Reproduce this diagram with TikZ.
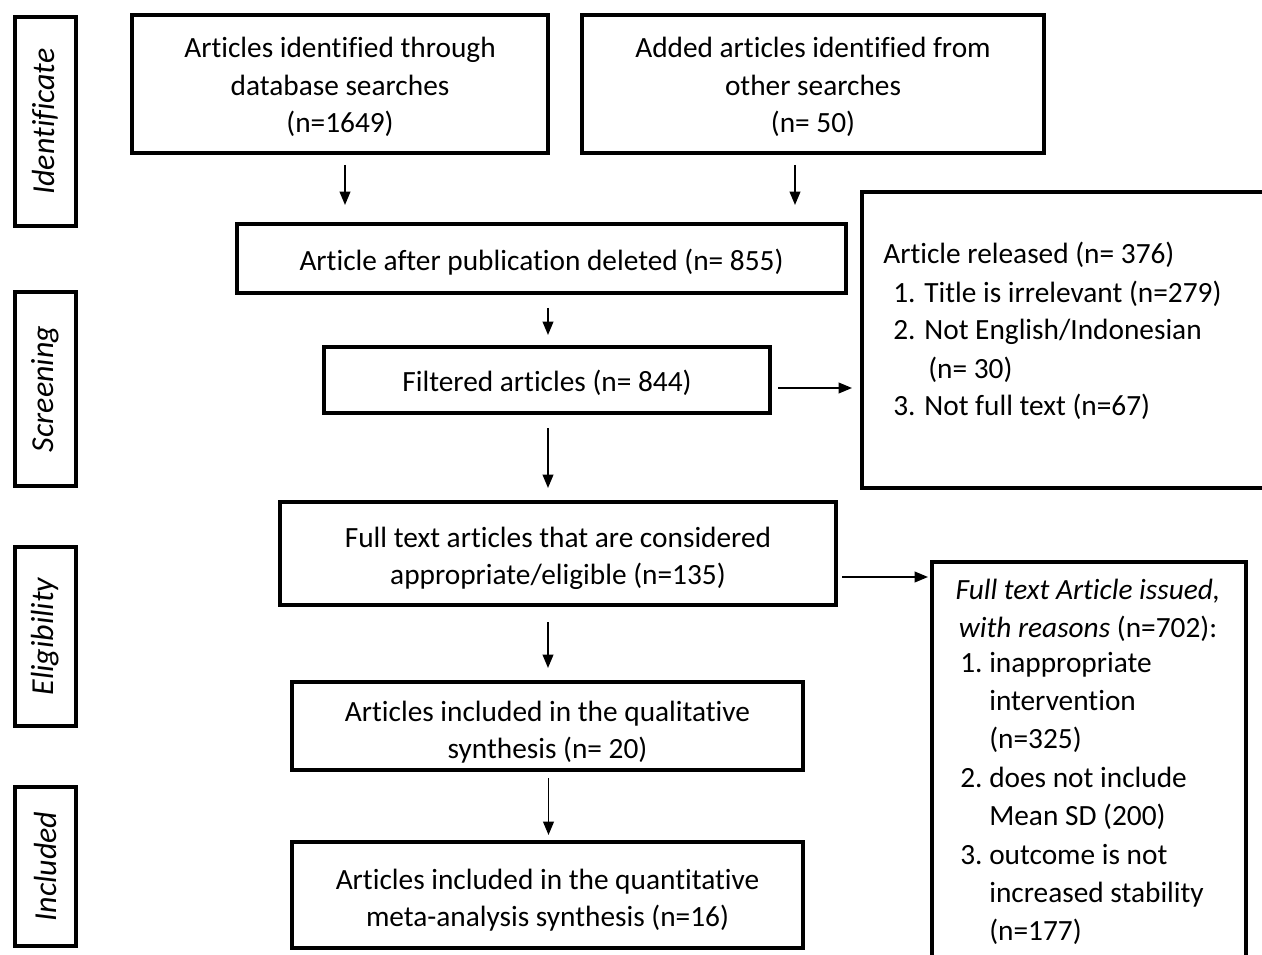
\documentclass[tikz,border=0pt]{standalone}
\usepackage{fontspec}
\setmainfont{Carlito}[Ligatures=NoCommon]
\usetikzlibrary{arrows.meta}
\newcommand{\lift}[1]{\rule{0pt}{#1pt}}
\begin{document}
\begin{tikzpicture}[x=0.75pt,y=-0.75pt,
  every node/.style={font=\fontsize{22}{28}\selectfont},
  box/.style={draw, line width=3pt, inner sep=0pt, align=center},
  sz/.style 2 args={minimum width={(#1-4)*0.75pt}, minimum height={(#2-4)*0.75pt}},
  side/.style={draw, line width=3pt, rotate=90, inner sep=0pt, font=\fontsize{24}{28}\selectfont\itshape},
  txt/.style={inner sep=0pt},
  arr/.style={line width=1.3pt, -{Triangle[length=10pt,width=8pt]}}
]
\clip (0,0) rectangle (1262,955);
% side labels
\node[side, sz={213}{65}] (s1) at (45.5,121.5) {Identificate};
\node[side, sz={198}{65}] (s2) at (45.5,389) {Screening};
\node[side, sz={183}{65}] (s3) at (45.5,636.5) {Eligibility};
\node[side, sz={163}{65}] (s4) at (45.5,866.5) {Included};
% main boxes
\node[box, sz={420}{142}] (A) at (340,84) {\lift{20}Articles identified through\\database searches\\(n=1649)};
\node[box, sz={466}{142}] (B) at (813,84) {\lift{20}Added articles identified from\\other searches\\(n= 50)};
\node[box, sz={613}{73}] (C) at (541.5,258.5) {\lift{21}Article after publication deleted (n= 855)};
\node[box, sz={450}{70}] (D) at (547,380) {\lift{20}Filtered articles (n= 844)};
\node[box, sz={440}{300}] (E) at (1080,340) {};
\node[txt, anchor=base west, text width={370*0.75pt}, align=flush left, font=\fontsize{22}{28.5}\selectfont] (Et) at (883,264)
  {Article released (n= 376)\\
   \hspace*{7.5pt}1. Title is irrelevant (n=279)\\
   \hspace*{7.5pt}2. Not English/Indonesian\\
   \hspace*{33.75pt}(n= 30)\\
   \hspace*{7.5pt}3. Not full text (n=67)};
\node[box, sz={560}{107}] (F) at (558,553.5) {\lift{23}Full text articles that are considered\\appropriate/eligible (n=135)};
\node[box, sz={318}{440}] (G) at (1089,780) {};
\node[txt, anchor=base, text width={300*0.75pt}, align=flush center, font=\fontsize{22}{28.5}\selectfont] (Gh) at (1088,599)
  {\textit{Full text Article issued,}\\\textit{with reasons} (n=702):};
\node[txt, anchor=base west, text width={285*0.75pt}, align=flush left, font=\fontsize{22}{28.8}\selectfont] (Gl) at (960,672)
  {\makebox[21.75pt][l]{1.}inappropriate\\
   \hspace*{21.75pt}intervention\\
   \hspace*{21.75pt}(n=325)\\
   \makebox[21.75pt][l]{2.}does not include\\
   \hspace*{21.75pt}Mean SD (200)\\
   \makebox[21.75pt][l]{3.}outcome is not\\
   \hspace*{21.75pt}increased stability\\
   \hspace*{21.75pt}(n=177)};
\node[box, sz={515}{92}] (H) at (547.5,726) {\lift{24.5}Articles included in the qualitative\\synthesis (n= 20)};
\node[box, sz={515}{110}] (I) at (547.5,895) {\lift{23}Articles included in the quantitative\\meta-analysis synthesis (n=16)};
% connectors
\draw[arr] ([shift={(5,10)}]A.south) -- ([shift={(5,-17)}]A.south |- C.north);
\draw[arr] ([shift={(-18,10)}]B.south) -- ([shift={(-18,-17)}]B.south |- C.north);
\draw[arr] ([shift={(1,13)}]C.south -| D.north) -- ([shift={(1,-10)}]D.north);
\draw[arr] ([shift={(6,8)}]D.east) -- ([shift={(-8,8)}]D.east -| E.west);
\draw[arr] ([shift={(1,13)}]D.south) -- ([shift={(1,-12)}]D.south |- F.north);
\draw[arr] ([shift={(4,23.5)}]F.east) -- ([shift={(-2,23.5)}]F.east -| G.west);
\draw[arr] ([shift={(-10,15)}]F.south) -- ([shift={(-10,-12)}]F.south |- H.north);
\draw[arr] ([shift={(1,6)}]H.south) -- ([shift={(1,-5)}]I.north);
\end{tikzpicture}
\end{document}
